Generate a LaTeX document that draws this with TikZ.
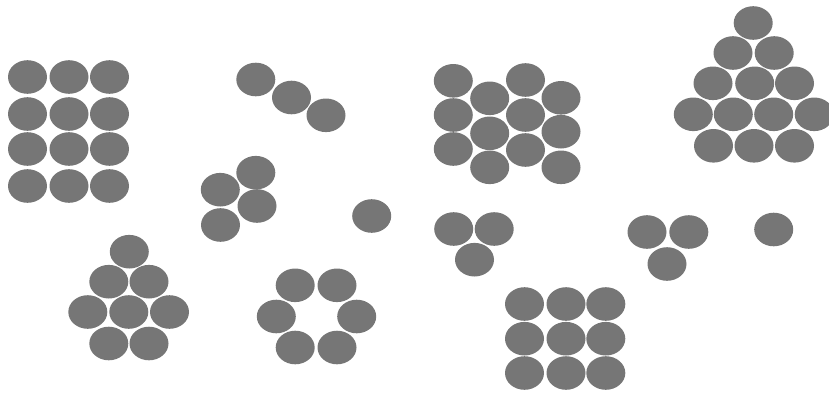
\documentclass[tikz,border=0pt]{standalone}
\begin{document}
\begin{tikzpicture}[x=1pt,y=-1pt]
\definecolor{dot}{HTML}{767676}
\tikzset{ball/.style={fill=dot}}
\useasboundingbox (0,0) rectangle (829,394);
\def\rx{19.5}\def\ry{16.8}
% 4x3 grid (left)
\foreach \x in {27.5,69,109.5}
  \foreach \y in {77,114,149,186}
    \fill[ball] (\x,\y) ellipse [x radius=\rx, y radius=\ry];
% diagonal chain of three
\foreach \p in {(255.8,79.5),(291.5,97.5),(326,115.3)}
  \fill[ball] \p ellipse [x radius=\rx, y radius=\ry];
% cluster of four
\foreach \p in {(255.8,172.7),(220.3,189.7),(257,206),(220.5,225)}
  \fill[ball] \p ellipse [x radius=\rx, y radius=\ry];
% single middle
\fill[ball] (371.7,216) ellipse [x radius=\rx, y radius=\ry];
% staggered block
\foreach \y in {80.8,115,149} \fill[ball] (453.3,\y) ellipse [x radius=\rx, y radius=\ry];
\foreach \y in {98.3,133.3,167.3} \fill[ball] (489.7,\y) ellipse [x radius=\rx, y radius=\ry];
\foreach \y in {80,115,150} \fill[ball] (525.5,\y) ellipse [x radius=\rx, y radius=\ry];
\foreach \y in {97.8,131.7,167.3} \fill[ball] (561,\y) ellipse [x radius=\rx, y radius=\ry];
% pyramid (right)
\foreach \p in {(753.2,23),(733,53),(774.2,53),(713,83.3),(754.7,83.3),(794.5,83.3),
  (693.3,114.3),(733.3,114.3),(773.7,114.3),(814.2,114.3),(713.5,145.8),(754,145.8),(794.5,145.8)}
  \fill[ball] \p ellipse [x radius=\rx, y radius=\ry];
% triangles of three
\foreach \p in {(453.7,229),(494.2,229),(474.5,259.7),(647,232),(688.8,232),(667,264)}
  \fill[ball] \p ellipse [x radius=\rx, y radius=\ry];
% single right
\fill[ball] (773.7,229.5) ellipse [x radius=\rx, y radius=\ry];
% 3x3 grid (bottom)
\foreach \x in {524.5,566,605.8}
  \foreach \y in {304,338.7,373}
    \fill[ball] (\x,\y) ellipse [x radius=\rx, y radius=\ry];
% hexagonal cluster of seven plus top
\foreach \p in {(129.3,251.7),(108.8,281.7),(149,281.7),(87.8,312),(128.8,312),(169.5,312),(108.8,343.5),(149,343.5)}
  \fill[ball] \p ellipse [x radius=\rx, y radius=\ry];
% ring of six
\foreach \p in {(295.2,285.3),(337,285.3),(276.3,316.5),(356.7,316.5),(295.2,347.5),(337,347.5)}
  \fill[ball] \p ellipse [x radius=\rx, y radius=\ry];
\end{tikzpicture}
\end{document}
